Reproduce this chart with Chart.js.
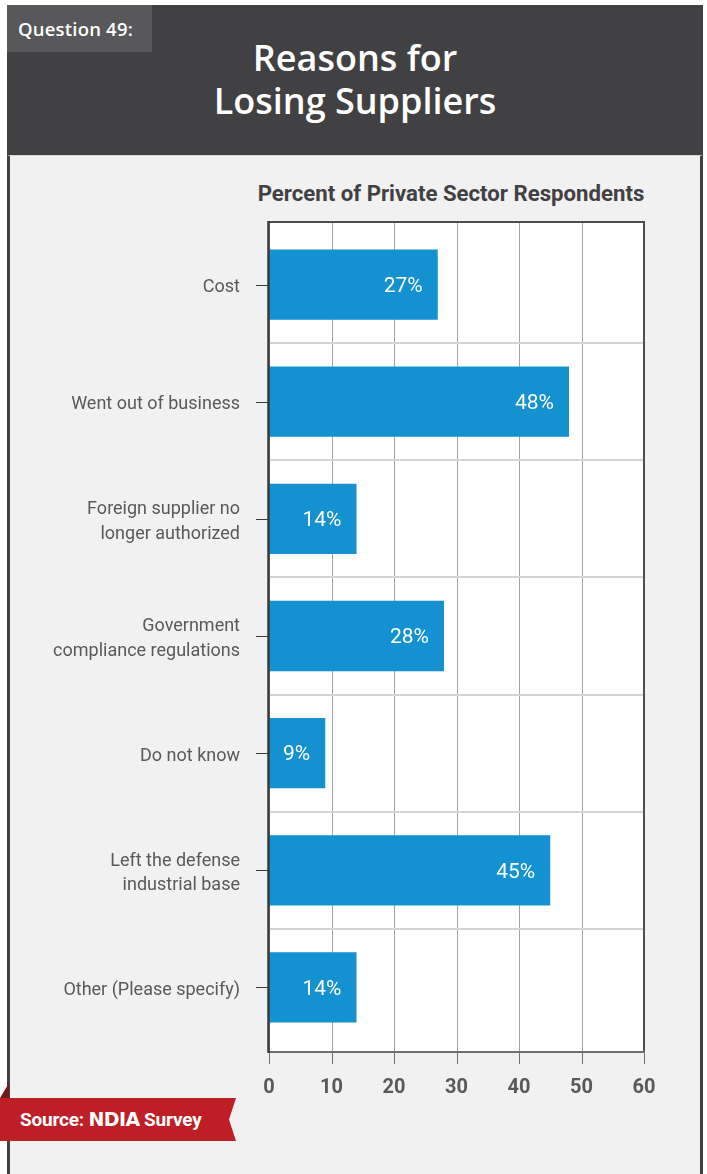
<!DOCTYPE html>
<html>
<head>
<meta charset="utf-8">
<script src="https://cdn.jsdelivr.net/npm/chart.js@4.4.1/dist/chart.umd.min.js"></script>
<style>
  html, body { margin: 0; padding: 0; background: #ffffff; width: 707px; height: 1174px; overflow: hidden; }
  #header { position: absolute; left: 7px; top: 5px; width: 696px; height: 150px; background: #414042; }
  #qbox { position: absolute; left: 7px; top: 5px; width: 145px; height: 47px; background: #58585a;
          color: #fff; font: 600 18.5px "Open Sans", sans-serif; line-height: 47px; padding-left: 11px; box-sizing: border-box; letter-spacing: 0.2px; }
  #title { position: absolute; left: 7px; top: 36px; width: 696px; text-align: center; color: #fff;
           font: 600 36px "Open Sans", sans-serif; line-height: 43px; }
  #panel { position: absolute; left: 7px; top: 155px; width: 696px; height: 1030px; background: #f0f1f0;
           border-left: 3px solid #414042; border-right: 3px solid #414042; border-top: 1px solid #d6d6d6; box-sizing: border-box; }
  #subtitle { position: absolute; left: 221px; top: 180px; width: 460px; text-align: center; color: #414042;
              font: 700 22.2px Roboto, sans-serif; }
  #chartwrap { position: absolute; left: 0; top: 0; width: 707px; height: 1174px; }
  #fold { position: absolute; left: 0; top: 1083px; width: 9px; height: 15px; background: #7a1518;
          clip-path: polygon(0 100%, 100% 0, 100% 100%); }
  #ribbon { position: absolute; left: 0; top: 1098px; width: 236px; height: 43px; background: #be1e25;
            clip-path: polygon(0 0, 236px 0, 229px 21.5px, 236px 43px, 0 43px);
            color: #fff; font: 700 19px Roboto, sans-serif; line-height: 43px; padding-left: 20px; box-sizing: border-box; letter-spacing: -0.2px; }
  #ribbon b { font-family: "DejaVu Sans"; font-weight: 700; letter-spacing: -0.6px; }
</style>
</head>
<body>
<div id="header"></div>
<div id="qbox">Question 49:</div>
<div id="title">Reasons for<br>Losing Suppliers</div>
<div id="panel"></div>
<div id="subtitle">Percent of Private Sector Respondents</div>
<div id="chartwrap"><canvas id="c" width="707" height="1174"></canvas></div>
<div id="fold"></div>
<div id="ribbon">Source: <b>NDIA</b> Survey</div>
<script>
// Reasons reported for losing suppliers (percent of private sector respondents)
const reasons = [
  'Cost',
  'Went out of business',
  ['Foreign supplier no', 'longer authorized'],
  ['Government', 'compliance regulations'],
  'Do not know',
  ['Left the defense', 'industrial base'],
  'Other (Please specify)'
];
const percents = [27, 48, 14, 28, 9, 45, 14];
const xTicks = [0, 10, 20, 30, 40, 50, 60];

const FRAME_TOP = 222, FRAME_BOTTOM = 1052;

// Plot frame, grid and tick marks drawn from the chart's scales
const framePlugin = {
  id: 'frame',
  beforeDatasetsDraw(chart) {
    const { ctx, chartArea: a, scales: { x, y } } = chart;
    ctx.save();
    ctx.fillStyle = '#ffffff';
    ctx.fillRect(a.left, FRAME_TOP, a.right - a.left, FRAME_BOTTOM - FRAME_TOP);
    // vertical grid lines
    ctx.strokeStyle = '#a3a3a3';
    ctx.lineWidth = 1;
    xTicks.forEach(v => {
      const px = Math.round(x.getPixelForValue(v)) + 0.5;
      ctx.beginPath(); ctx.moveTo(px, FRAME_TOP); ctx.lineTo(px, FRAME_BOTTOM); ctx.stroke();
    });
    // separators between categories
    ctx.strokeStyle = '#d4d4d4';
    ctx.lineWidth = 2;
    for (let i = 0; i < reasons.length - 1; i++) {
      const py = Math.round((y.getPixelForValue(i) + y.getPixelForValue(i + 1)) / 2);
      ctx.beginPath(); ctx.moveTo(a.left, py); ctx.lineTo(a.right, py); ctx.stroke();
    }
    ctx.restore();
  },
  afterDatasetsDraw(chart) {
    const { ctx, chartArea: a, scales: { x, y } } = chart;
    ctx.save();
    // frame: top and right
    ctx.strokeStyle = '#4d4d4d';
    ctx.lineWidth = 2;
    ctx.beginPath();
    ctx.moveTo(a.left, FRAME_TOP); ctx.lineTo(a.right, FRAME_TOP); ctx.lineTo(a.right, FRAME_BOTTOM);
    ctx.stroke();
    // bottom axis
    ctx.strokeStyle = '#6f6f6f';
    ctx.beginPath(); ctx.moveTo(a.left, FRAME_BOTTOM); ctx.lineTo(a.right + 1, FRAME_BOTTOM); ctx.stroke();
    // x tick marks
    ctx.lineWidth = 1;
    ctx.strokeStyle = '#6f6f6f';
    xTicks.forEach(v => {
      const px = Math.round(x.getPixelForValue(v)) + 0.5;
      ctx.beginPath(); ctx.moveTo(px, FRAME_BOTTOM); ctx.lineTo(px, FRAME_BOTTOM + 12); ctx.stroke();
    });
    // left axis
    ctx.strokeStyle = '#3a3a3a';
    ctx.lineWidth = 2.5;
    ctx.beginPath(); ctx.moveTo(a.left - 0.5, FRAME_TOP - 1); ctx.lineTo(a.left - 0.5, FRAME_BOTTOM + 1); ctx.stroke();
    // y tick marks
    ctx.lineWidth = 1;
    ctx.strokeStyle = '#3a3a3a';
    reasons.forEach((_, i) => {
      const py = Math.round(y.getPixelForValue(i)) + 0.5;
      ctx.beginPath(); ctx.moveTo(a.left - 13, py); ctx.lineTo(a.left - 1, py); ctx.stroke();
    });
    // value labels inside bars
    ctx.fillStyle = '#ffffff';
    ctx.font = '400 21px Roboto, sans-serif';
    ctx.textAlign = 'right';
    ctx.textBaseline = 'middle';
    chart.getDatasetMeta(0).data.forEach((bar, i) => {
      ctx.fillText(percents[i] + '%', bar.x - 15, bar.y + 2);
    });
    ctx.restore();
  }
};

new Chart(document.getElementById('c'), {
  type: 'bar',
  data: {
    labels: reasons,
    datasets: [{
      data: percents,
      backgroundColor: '#1391d0',
      borderWidth: 0,
      categoryPercentage: 0.6,
      barPercentage: 1.0
    }]
  },
  options: {
    indexAxis: 'y',
    responsive: false,
    animation: false,
    events: [],
    layout: { padding: { left: 0, right: 63, top: 226, bottom: 0 } },
    plugins: { legend: { display: false }, tooltip: { enabled: false }, title: { display: false } },
    scales: {
      x: {
        type: 'linear',
        min: 0, max: 60,
        afterBuildTicks(scale) { scale.ticks = xTicks.map(v => ({ value: v })); },
        afterFit(scale) { scale.height = 128; },
        grid: { display: false },
        border: { display: false },
        ticks: {
          padding: 22,
          color: '#58595b',
          font: { family: 'Roboto', weight: '700', size: 20 }
        }
      },
      y: {
        afterFit(scale) { scale.width = 269; },
        grid: { display: false },
        border: { display: false },
        ticks: {
          padding: 21,
          labelOffset: 3,
          color: '#58595b',
          font: { family: 'Roboto', weight: '400', size: 18, lineHeight: 1.35 }
        }
      }
    }
  },
  plugins: [framePlugin]
});
</script>
</body>
</html>
